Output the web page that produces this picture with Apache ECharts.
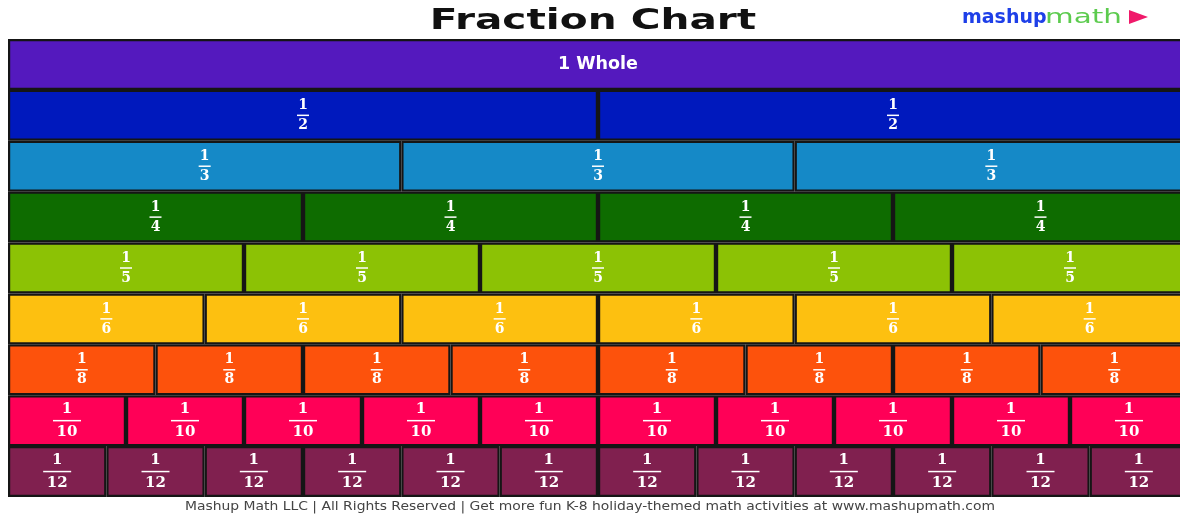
<!DOCTYPE html>
<html>
<head>
<meta charset="utf-8">
<script src="https://cdn.jsdelivr.net/npm/echarts@6/dist/echarts.min.js"></script>
<style>html,body{margin:0;padding:0;background:#fff;overflow:hidden}#c{width:1188px;height:514px}</style>
</head>
<body>
<div id="c"></div>
<script>
// ---- data ----
var denominators = [1, 2, 3, 4, 5, 6, 8, 10, 12];
var rowNames = ['1 Whole', '1/2', '1/3', '1/4', '1/5', '1/6', '1/8', '1/10', '1/12'];
var rowColors = ['#5419BE', '#0019BD', '#1589C7', '#0E6C00', '#8CC205', '#FDC010', '#FD520C', '#FF0057', '#80204F'];
var titleText = 'Fraction Chart';
var footerText = 'Mashup Math LLC | All Rights Reserved | Get more fun K-8 holiday-themed math activities at www.mashupmath.com';

var maxParts = 12;
var series = [];
for (var k = 0; k < maxParts; k++) {
  series.push({
    type: 'bar',
    stack: 'wall',
    barCategoryGap: 0,
    barWidth: '100%',
    data: denominators.map(function (n, r) {
      if (k >= n) return '-';
      return { value: 1 / n, itemStyle: { color: rowColors[r] } };
    }),
    itemStyle: { borderColor: '#151515', borderWidth: 2.2 },
    label: {
      show: true,
      position: 'inside',
      formatter: function (p) {
        var n = denominators[p.dataIndex];
        if (n === 1) return '{w|1 Whole}';
        var s = n >= 10 ? 'b' : 's';
        return '{' + s + 'n|1}\n{' + s + 'l|}\n{' + s + 'd|' + n + '}';
      },
      rich: {
        w: { color: '#fff', fontFamily: 'DejaVu Sans', fontWeight: 'bold', fontSize: 17.5 },
        sn: { color: '#fff', fontFamily: 'DejaVu Serif', fontWeight: 'bold', fontSize: 14, lineHeight: 15, align: 'center' },
        sl: { backgroundColor: '#fff', width: 12, height: 1.5, lineHeight: 5, align: 'center' },
        sd: { color: '#fff', fontFamily: 'DejaVu Serif', fontWeight: 'bold', fontSize: 14, lineHeight: 15, align: 'center' },
        bn: { color: '#fff', fontFamily: 'DejaVu Serif', fontWeight: 'bold', fontSize: 15, lineHeight: 17, align: 'center' },
        bl: { backgroundColor: '#fff', width: 28, height: 1.5, lineHeight: 6, align: 'center' },
        bd: { color: '#fff', fontFamily: 'DejaVu Serif', fontWeight: 'bold', fontSize: 15, lineHeight: 17, align: 'center' }
      }
    }
  });
}

var chart = echarts.init(document.getElementById('c'));
chart.setOption({
  animation: false,
  backgroundColor: '#fff',
  grid: { left: 8, right: 0, top: 39, bottom: 17, containLabel: false },
  xAxis: { type: 'value', min: 0, max: 1, show: false },
  yAxis: { type: 'category', inverse: true, data: rowNames, show: false },
  series: series,
  graphic: [
    {
      type: 'text',
      x: 593, y: 8,
      scaleX: 1.45,
      style: { text: titleText, fontFamily: 'DejaVu Sans', fontWeight: 'bold', fontSize: 28, fill: '#111', align: 'center', verticalAlign: 'top' }
    },
    {
      type: 'text',
      x: 962, y: 9,
      style: { text: 'mashup', fontFamily: 'DejaVu Sans', fontWeight: 'bold', fontSize: 19, fill: '#1E3FE8', verticalAlign: 'top' }
    },
    {
      type: 'text',
      x: 1045, y: 9,
      scaleX: 1.55,
      style: { text: 'math', fontFamily: 'DejaVu Sans', fontSize: 19, fill: '#5CCB4E', verticalAlign: 'top' }
    },
    {
      type: 'polygon',
      shape: { points: [[1129, 10], [1148, 17], [1129, 24]] },
      style: { fill: '#F0196A' }
    },
    {
      type: 'text',
      x: 590, y: 501,
      scaleX: 1.13,
      style: { text: footerText, fontFamily: 'DejaVu Sans', fontSize: 12.3, fill: '#444', align: 'center', verticalAlign: 'top' }
    }
  ]
});
</script>
</body>
</html>
